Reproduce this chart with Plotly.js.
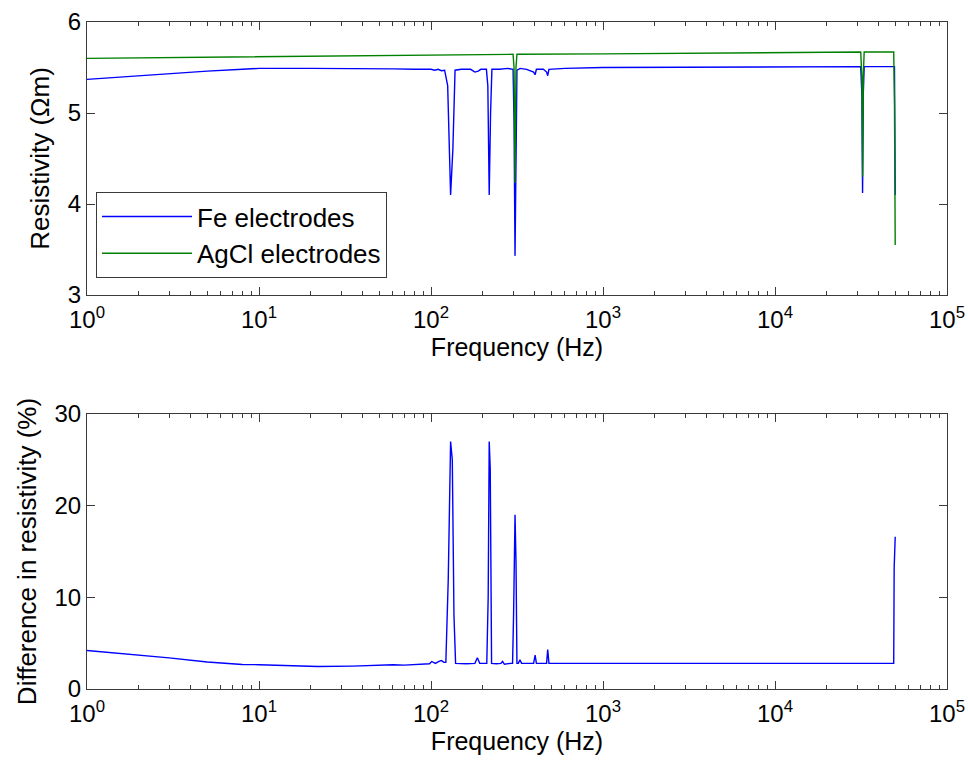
<!DOCTYPE html>
<html>
<head>
<meta charset="utf-8">
<script src="https://cdn.plot.ly/plotly-3.0.1.min.js"></script>
<style>html,body{margin:0;padding:0;background:#fff;}#chart{width:968px;height:769px;}</style>
</head>
<body>
<div id="chart"></div>
<script>
// ---- Top panel: resistivity (Ohm m) vs frequency (Hz)
const freqFe = [1, 2, 3, 5, 8, 10, 20, 40, 60, 80, 100, 105, 110, 115, 120, 125, 130, 134, 138, 150,
  170, 180, 188, 195, 210, 214, 218, 222, 226, 250, 280, 300, 304, 308, 312, 316, 330, 360, 395, 403,
  410, 450, 470, 477, 485, 600, 1000, 3000, 10000, 20000, 31500, 32000, 32300, 32600, 33000, 40000, 49000, 49500, 50000];
const resFe = [5.37, 5.41, 5.43, 5.46, 5.48, 5.49, 5.49, 5.49, 5.485, 5.48, 5.48, 5.47, 5.48, 5.465, 5.47, 5.30, 4.10, 4.60, 5.47, 5.48,
  5.48, 5.45, 5.46, 5.48, 5.48, 5.30, 4.10, 5.00, 5.48, 5.48, 5.49, 5.48, 4.90, 3.43, 4.90, 5.47, 5.49, 5.48, 5.45, 5.42,
  5.48, 5.48, 5.45, 5.41, 5.48, 5.49, 5.50, 5.505, 5.51, 5.51, 5.51, 5.20, 4.12, 5.20, 5.51, 5.51, 5.51, 5.51, 4.10];

const freqAg = [1, 10, 100, 200, 300, 304, 308, 312, 316, 1000, 3000, 10000, 31500, 32000, 32300, 32600, 33000, 40000, 49000, 49500, 50000];
const resAg = [5.60, 5.615, 5.635, 5.64, 5.645, 5.50, 4.23, 5.50, 5.645, 5.65, 5.655, 5.665, 5.67, 5.40, 4.30, 5.40, 5.67, 5.67, 5.67, 5.10, 3.55];

// ---- Bottom panel: difference in resistivity (%)
const freqDiff = [1, 2, 3, 5, 8, 10, 15, 22, 35, 50, 60, 70, 90, 98, 101, 106, 112, 115, 119, 122,
  126, 130, 133, 136, 139, 160, 180, 186, 192, 205, 211, 215, 218, 221, 225, 240, 255, 261, 267, 290,
  298, 302, 308, 312, 316, 322, 329, 336, 380, 395, 403, 410, 460, 470, 477, 485, 600, 1000, 3000, 10000,
  30000, 49000, 49300, 50000];
const diffPct = [4.2, 3.7, 3.4, 2.95, 2.68, 2.65, 2.55, 2.45, 2.5, 2.6, 2.65, 2.6, 2.7, 2.75, 3.0, 2.8, 3.05, 3.1, 2.9, 2.9,
  12, 27, 25, 8, 2.8, 2.75, 2.8, 3.4, 2.8, 2.75, 2.8, 10, 27, 24, 2.8, 2.75, 2.8, 3.0, 2.7, 2.8,
  2.8, 8, 19, 14, 2.8, 2.8, 3.2, 2.8, 2.8, 2.8, 3.7, 2.8, 2.8, 2.8, 4.3, 2.8, 2.8, 2.8, 2.8, 2.8,
  2.8, 2.8, 13.2, 16.6];

// ---- Ticks
const xTickVals = [1, 10, 100, 1000, 10000, 100000];
const xTickText = ['10<sup>0</sup>', '10<sup>1</sup>', '10<sup>2</sup>', '10<sup>3</sup>', '10<sup>4</sup>', '10<sup>5</sup>'];
const yTopTicks = [3, 4, 5, 6];
const yBotTicks = [0, 10, 20, 30];

const FONT = 'Liberation Sans, Arial, Helvetica, sans-serif';
const AX = '#3a3a3a';

function xAxis(anchor) {
  return {
    type: 'log', range: [0, 5], anchor: anchor,
    tickmode: 'array', tickvals: xTickVals, ticktext: xTickText,
    ticks: 'inside', ticklen: 8, tickwidth: 1, tickcolor: AX,
    showline: true, linecolor: AX, linewidth: 1, mirror: 'ticks',
    showgrid: false, zeroline: false, ticklabelstandoff: 3,
    minor: {ticks: 'inside', ticklen: 4, tickcolor: AX, dtick: 'D1', showgrid: false},
    tickfont: {family: FONT, size: 24, color: '#000'},
    title: {text: 'Frequency (Hz)', font: {family: FONT, size: 25, color: '#000'}, standoff: 0}
  };
}
function yAxis(domain, range, ticks, title, anchor) {
  return {
    domain: domain, range: range, anchor: anchor,
    tickmode: 'array', tickvals: ticks,
    ticks: 'inside', ticklen: 8, tickwidth: 1, tickcolor: AX,
    showline: true, linecolor: AX, linewidth: 1, mirror: 'ticks',
    showgrid: false, zeroline: false,
    tickfont: {family: FONT, size: 24, color: '#000'},
    title: {text: title, font: {family: FONT, size: 26, color: '#000'}, standoff: 10}
  };
}

const traces = [
  {x: freqFe, y: resFe, type: 'scatter', mode: 'lines', name: 'Fe electrodes',
   line: {color: '#0000ff', width: 1.4}, xaxis: 'x', yaxis: 'y'},
  {x: freqAg, y: resAg, type: 'scatter', mode: 'lines', name: 'AgCl electrodes',
   line: {color: '#008000', width: 1.4}, xaxis: 'x', yaxis: 'y'},
  {x: freqDiff, y: diffPct, type: 'scatter', mode: 'lines', name: 'Difference',
   line: {color: '#0000ff', width: 1.4}, xaxis: 'x2', yaxis: 'y2', showlegend: false}
];

const layout = {
  width: 968, height: 769,
  paper_bgcolor: '#fff', plot_bgcolor: '#fff',
  margin: {l: 87, r: 21, t: 22, b: 80},
  font: {family: FONT, size: 24, color: '#000'},
  xaxis: xAxis('y'),
  yaxis: yAxis([0.5907, 1], [3, 6], yTopTicks, 'Resistivity (\u03A9m)', 'x'),
  xaxis2: xAxis('y2'),
  yaxis2: yAxis([0, 0.4123], [0, 30], yBotTicks, 'Difference in resistivity (%)', 'x2'),
  showlegend: true,
  legend: {
    x: 0.0105, y: 0.745, xanchor: 'left', yanchor: 'top',
    bgcolor: '#fff', bordercolor: AX, borderwidth: 1,
    font: {family: FONT, size: 26, color: '#000'},
    itemwidth: 90, tracegroupgap: 0
  }
};

Plotly.newPlot('chart', traces, layout, {staticPlot: true, displayModeBar: false});
</script>
</body>
</html>
